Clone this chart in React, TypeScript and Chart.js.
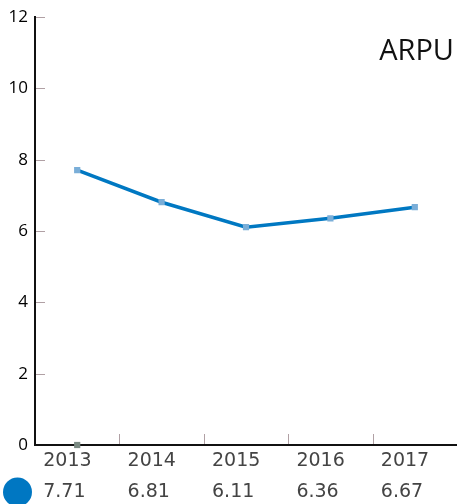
import React, { useEffect, useRef } from "react";
import { Chart, registerables } from "chart.js";

Chart.register(...registerables);

const categories = ["2013", "2014", "2015", "2016", "2017"];
const arpuValues = [7.71, 6.81, 6.11, 6.36, 6.67];
const valueLabels = ["7.71", "6.81", "6.11", "6.36", "6.67"];
const baselineMarker = [0, null, null, null, null];
const yTicks = [0, 2, 4, 6, 8, 10, 12];
const chartTitle = "ARPU";

const overlayPlugin = {
  id: "overlay",
  afterDraw(chart: any) {
    const ctx = chart.ctx;
    const x = chart.scales.x;
    const y = chart.scales.y;
    const area = chart.chartArea;
    ctx.save();
    // y tick marks (inside)
    ctx.strokeStyle = "#b0a0a4";
    ctx.lineWidth = 1;
    yTicks.forEach((v) => {
      if (v === 0) return;
      const py = Math.round(y.getPixelForValue(v)) + 0.5;
      ctx.beginPath();
      ctx.moveTo(area.left + 1, py);
      ctx.lineTo(area.left + 10, py);
      ctx.stroke();
    });
    // x tick marks between categories
    for (let i = 0; i < categories.length - 1; i++) {
      const px = Math.round((x.getPixelForValue(i) + x.getPixelForValue(i + 1)) / 2) + 0.5;
      ctx.beginPath();
      ctx.moveTo(px, area.bottom - 1);
      ctx.lineTo(px, area.bottom - 11);
      ctx.stroke();
    }
    // category labels and value row
    ctx.font = '19px "DejaVu Sans"';
    ctx.fillStyle = "#444444";
    ctx.textAlign = "left";
    ctx.textBaseline = "middle";
    categories.forEach((c, i) => {
      const px = x.getPixelForValue(i) - 34;
      ctx.fillText(c, px, area.bottom + 16);
      ctx.fillText(valueLabels[i], px, area.bottom + 47);
    });
    // legend circle
    ctx.fillStyle = "#0077c2";
    ctx.beginPath();
    ctx.arc(17.5, area.bottom + 47, 14.5, 0, Math.PI * 2);
    ctx.fill();
    // title
    ctx.font = '29px "Open Sans"';
    ctx.fillStyle = "#111111";
    ctx.textAlign = "right";
    ctx.fillText(chartTitle, 454, 52);
    ctx.restore();
  },
};

export default function App() {
  const ref = useRef<HTMLCanvasElement>(null);
  useEffect(() => {
    document.body.style.margin = "0";
    const chart = new Chart(ref.current!, {
      type: "line",
      data: {
        labels: categories,
        datasets: [
          {
            data: arpuValues,
            borderColor: "#0078c2",
            borderWidth: 3.5,
            pointStyle: "rect",
            pointRadius: 4.4,
            pointBackgroundColor: "#7aaed8",
            pointBorderWidth: 0,
            tension: 0,
          },
          {
            data: baselineMarker,
            showLine: false,
            clip: false,
            pointStyle: "rect",
            pointRadius: 4.4,
            pointBackgroundColor: "#7a8a82",
            pointBorderWidth: 0,
          },
        ],
      },
      options: {
        animation: false,
        responsive: false,
        layout: { autoPadding: false, padding: { top: 17, right: -3, bottom: 0, left: 0 } },
        plugins: { legend: { display: false }, tooltip: { enabled: false } },
        scales: {
          x: {
            offset: true,
            grid: { display: false, drawTicks: false },
            border: { display: true, color: "#111111", width: 2 },
            ticks: { display: false },
            afterFit: (s: any) => {
              s.height = 59;
            },
          },
          y: {
            min: 0,
            max: 12,
            grid: { display: false, drawTicks: false },
            border: { display: true, color: "#111111", width: 2 },
            ticks: {
              stepSize: 2,
              padding: 7,
              color: "#000000",
              font: { family: "Open Sans", size: 17 },
            },
            afterFit: (s: any) => {
              s.width = 35;
            },
          },
        },
      },
      plugins: [overlayPlugin],
    });
    return () => chart.destroy();
  }, []);
  return <canvas ref={ref} width={457} height={504} style={{ display: "block" }} />;
}
